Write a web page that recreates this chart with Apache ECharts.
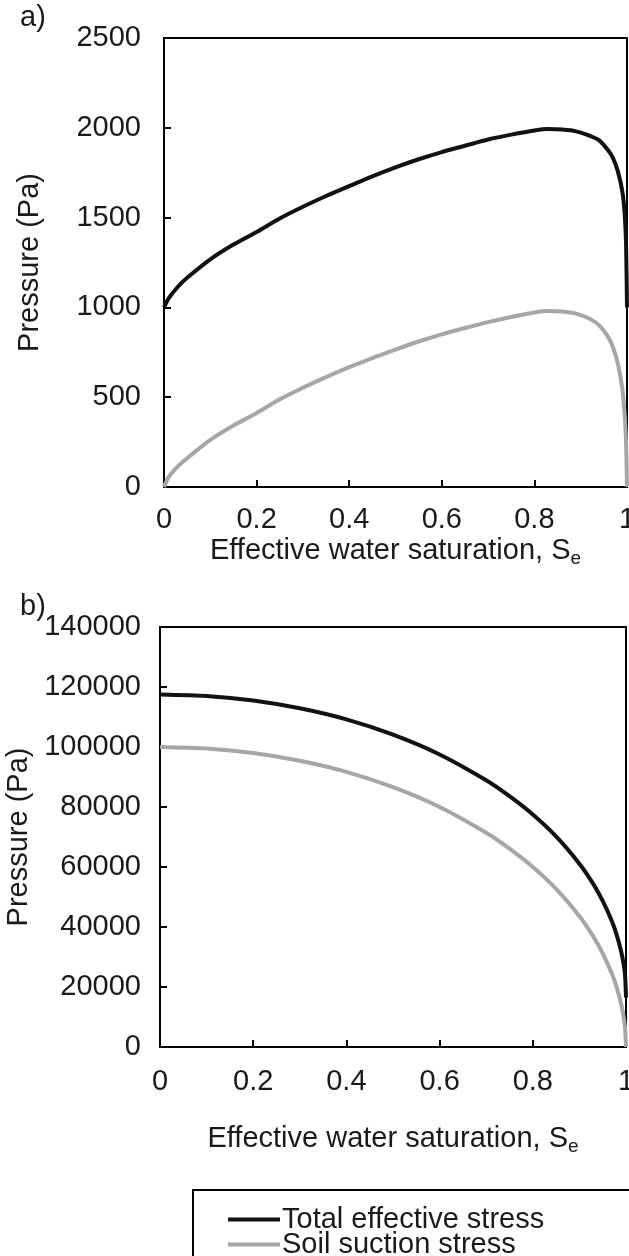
<!DOCTYPE html>
<html>
<head>
<meta charset="utf-8">
<script src="https://cdn.jsdelivr.net/npm/echarts@6/dist/echarts.min.js"></script>
<style>
html,body{margin:0;padding:0;background:#fff;}
#chart{width:629px;height:1256px;}
</style>
</head>
<body>
<div id="chart"></div>
<script>
// ---- Data ----
const seriesNames = ['Total effective stress', 'Soil suction stress'];

// Panel a)
const seA = [0, 0.01, 0.03, 0.05, 0.1, 0.15, 0.2, 0.25, 0.3, 0.35, 0.4, 0.45, 0.5, 0.55, 0.6, 0.65, 0.7, 0.75, 0.8, 0.83, 0.86, 0.89, 0.92, 0.94, 0.96, 0.97, 0.98, 0.99, 0.995, 0.998, 1.0];
const totalA = [1000, 1050, 1115, 1165, 1268, 1350, 1420, 1495, 1560, 1620, 1675, 1730, 1780, 1825, 1865, 1900, 1935, 1962, 1985, 1993, 1990, 1980, 1955, 1930, 1872, 1830, 1760, 1645, 1520, 1350, 1000];
const suctionA = [0, 55, 115, 160, 262, 342, 412, 488, 553, 612, 667, 718, 765, 810, 850, 885, 918, 947, 972, 980, 977, 965, 935, 900, 832, 776, 690, 545, 400, 250, 0];

// Panel b)
const seB = [0, 0.1, 0.2, 0.3, 0.4, 0.5, 0.6, 0.7, 0.75, 0.8, 0.85, 0.9, 0.93, 0.95, 0.97, 0.98, 0.99, 0.995, 0.998, 1.0];
const totalB = [117500, 117000, 115500, 112900, 109200, 104100, 97500, 88900, 83600, 77500, 70200, 61100, 54300, 48700, 41800, 37400, 31600, 27500, 24000, 16500];
const suctionB = [100000, 99500, 98000, 95400, 91700, 86600, 80000, 71400, 66100, 60000, 52700, 43600, 36800, 31200, 24300, 19900, 14100, 9990, 6300, 0];

const xTicks = [0, 0.2, 0.4, 0.6, 0.8, 1];
const yTicksA = [0, 500, 1000, 1500, 2000, 2500];
const yTicksB = [0, 20000, 40000, 60000, 80000, 100000, 120000, 140000];

// ---- Chart ----
const FONT = '"Liberation Sans", Arial, sans-serif';
const TXT = '#1a1a1a';
const FS = 29;
const pair = (xs, ys) => xs.map((x, i) => [x, ys[i]]);

function xAxis(gridIndex, labelMargin, nameGap) {
  return {
    type: 'value', gridIndex, min: xTicks[0], max: xTicks[xTicks.length - 1], interval: 0.2,
    axisLine: {show: true, lineStyle: {color: '#000', width: 2}},
    axisTick: {show: true, inside: true, length: 7, lineStyle: {color: '#000', width: 2}},
    splitLine: {show: false},
    axisLabel: {color: TXT, fontSize: FS, fontFamily: FONT, margin: labelMargin,
      formatter: v => String(+v.toFixed(1))},
    name: 'Effective water saturation, S{sub|e}',
    nameLocation: 'middle', nameGap, nameMoveOverlap: false,
    nameTextStyle: {color: TXT, fontSize: FS, fontFamily: FONT,
      rich: {sub: {fontSize: 19, fontFamily: FONT, color: TXT, padding: [16, 0, 0, 0]}}}
  };
}
function yAxis(gridIndex, ticks, labelMargin, nameGap) {
  return {
    type: 'value', gridIndex, min: ticks[0], max: ticks[ticks.length - 1], interval: ticks[1] - ticks[0],
    axisLine: {show: true, lineStyle: {color: '#000', width: 2}},
    axisTick: {show: true, inside: true, length: 7, lineStyle: {color: '#000', width: 2}},
    splitLine: {show: false},
    axisLabel: {color: TXT, fontSize: FS, fontFamily: FONT, margin: labelMargin, formatter: v => String(v)},
    name: 'Pressure (Pa)', nameLocation: 'middle', nameRotate: 90, nameGap, nameMoveOverlap: false,
    nameTextStyle: {color: TXT, fontSize: FS, fontFamily: FONT}
  };
}
function line(name, xi, data, color) {
  return {
    name, type: 'line', xAxisIndex: xi, yAxisIndex: xi, data,
    showSymbol: false, symbol: 'none', smooth: 0.25,
    lineStyle: {color, width: 4}, itemStyle: {color}, z: name === seriesNames[0] ? 3 : 2
  };
}
function legendItem(name, top) {
  return {
    data: [name], orient: 'horizontal', left: 228, top,
    padding: 0, itemGap: 0, itemWidth: 52, itemHeight: 4, icon: 'rect',
    textStyle: {color: TXT, fontSize: FS, fontFamily: FONT, lineHeight: 25, padding: [0, 0, 0, -3]}
  };
}

const chart = echarts.init(document.getElementById('chart'), null, {renderer: 'canvas'});
chart.setOption({
  backgroundColor: '#fff',
  animation: false,
  grid: [
    {left: 164, top: 38, width: 463, height: 449, show: true, borderColor: '#000', borderWidth: 2,
     containLabel: false, outerBoundsMode: 'none'},
    {left: 160, top: 627, width: 466, height: 420, show: true, borderColor: '#000', borderWidth: 2,
     containLabel: false, outerBoundsMode: 'none'}
  ],
  xAxis: [xAxis(0, 18, 46), xAxis(1, 20, 74)],
  yAxis: [yAxis(0, yTicksA, 23, 120), yAxis(1, yTicksB, 19, 127)],
  legend: [legendItem(seriesNames[0], 1205), legendItem(seriesNames[1], 1230)],
  graphic: [
    {type: 'text', left: 20, top: 3, style: {text: 'a)', fontSize: FS, fontFamily: FONT, fill: TXT}},
    {type: 'text', left: 20, top: 592, style: {text: 'b)', fontSize: FS, fontFamily: FONT, fill: TXT}},
    {type: 'rect', shape: {x: 193, y: 1190, width: 520, height: 120},
     style: {fill: 'none', stroke: '#000', lineWidth: 2}}
  ],
  series: [
    line(seriesNames[0], 0, pair(seA, totalA), '#111111'),
    line(seriesNames[1], 0, pair(seA, suctionA), '#a6a6a6'),
    line(seriesNames[0], 1, pair(seB, totalB), '#111111'),
    line(seriesNames[1], 1, pair(seB, suctionB), '#a6a6a6')
  ]
});
</script>
</body>
</html>
